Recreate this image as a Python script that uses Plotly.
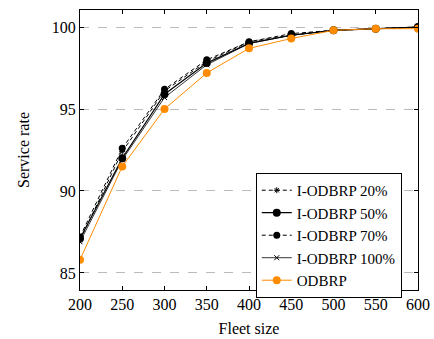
import plotly.graph_objects as go

fleet_size = [200, 250, 300, 350, 400, 450, 500, 550, 600]
iodbrp_20 = [87.0, 92.4, 96.1, 97.9, 99.1, 99.5, 99.8, 99.9, 100.0]
iodbrp_50 = [87.1, 92.0, 95.9, 97.8, 99.0, 99.5, 99.8, 99.9, 100.0]
iodbrp_70 = [87.2, 92.6, 96.2, 98.0, 99.1, 99.6, 99.8, 99.9, 100.0]
iodbrp_100 = [86.9, 91.9, 95.7, 97.7, 99.0, 99.5, 99.8, 99.9, 100.0]
odbrp = [85.8, 91.5, 95.0, 97.2, 98.7, 99.3, 99.8, 99.9, 99.9]

y_ticks = [85, 90, 95, 100]
x_ticks = [200, 250, 300, 350, 400, 450, 500, 550, 600]

FONT = "Liberation Serif, Times New Roman, serif"
ORANGE = "#FF8C00"

fig = go.Figure()

fig.add_trace(go.Scatter(
    x=fleet_size, y=iodbrp_20, name="I-ODBRP 20%", mode="lines+markers",
    line=dict(color="black", width=1, dash="4px,3px"),
    marker=dict(symbol="asterisk-open", size=5, color="black",
                line=dict(color="black", width=1)),
))
fig.add_trace(go.Scatter(
    x=fleet_size, y=iodbrp_50, name="I-ODBRP 50%", mode="lines+markers",
    line=dict(color="black", width=1.2),
    marker=dict(symbol="circle", size=8, color="black"),
))
fig.add_trace(go.Scatter(
    x=fleet_size, y=iodbrp_70, name="I-ODBRP 70%", mode="lines+markers",
    line=dict(color="black", width=1, dash="4px,3px"),
    marker=dict(symbol="circle", size=7, color="black"),
))
fig.add_trace(go.Scatter(
    x=fleet_size, y=iodbrp_100, name="I-ODBRP 100%", mode="lines+markers",
    line=dict(color="black", width=0.8),
    marker=dict(symbol="x-thin-open", size=5, color="black",
                line=dict(color="black", width=1)),
))
fig.add_trace(go.Scatter(
    x=fleet_size, y=odbrp, name="ODBRP", mode="lines+markers",
    line=dict(color=ORANGE, width=1),
    marker=dict(symbol="circle", size=8, color=ORANGE),
))

fig.update_layout(
    width=434, height=339,
    margin=dict(l=80, r=16, t=10, b=49, autoexpand=False),
    paper_bgcolor="white", plot_bgcolor="white",
    font=dict(family=FONT, size=16, color="black"),
    showlegend=True,
    legend=dict(
        x=0.52, y=0.418, xanchor="left", yanchor="top",
        bordercolor="black", borderwidth=1, bgcolor="white",
        font=dict(family=FONT, size=15),
        tracegroupgap=0, itemwidth=30,
    ),
)

fig.update_xaxes(
    range=[200, 600], tickvals=x_ticks, automargin=False,
    showline=True, linecolor="black", linewidth=1, mirror="ticks",
    ticks="inside", ticklen=4, tickcolor="black",
    tickfont=dict(family=FONT, size=16),
    showgrid=False, zeroline=False,
    title=dict(text="Fleet size", font=dict(family=FONT, size=16), standoff=10),
)
fig.update_yaxes(
    range=[83.96, 101.04], tickvals=y_ticks, automargin=False,
    showline=True, linecolor="black", linewidth=1, mirror="ticks",
    ticks="inside", ticklen=4, tickcolor="black",
    tickfont=dict(family=FONT, size=16),
    showgrid=True, gridcolor="#BBBBBB", griddash="dash", gridwidth=0.8,
    zeroline=False,
    title=dict(text="Service rate", font=dict(family=FONT, size=16), standoff=18),
)

fig.write_html("out.html")
